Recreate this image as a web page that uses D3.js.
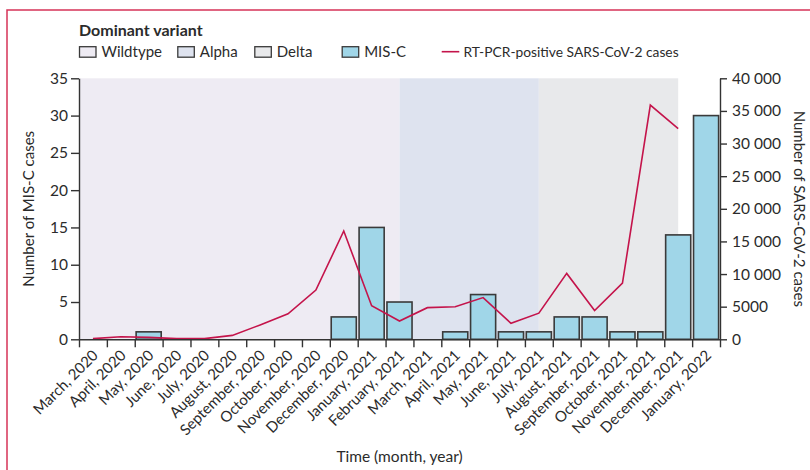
<!DOCTYPE html>
<html><head><meta charset="utf-8">
<script src="https://cdn.jsdelivr.net/npm/d3@7/dist/d3.min.js"></script>
<style>
body{margin:0;background:#fff}
text{font-family:Lato,sans-serif;fill:#2b2b2b}
</style>
</head><body>
<svg id="c" width="810" height="470"></svg>
<script>
const months = ["March, 2020","April, 2020","May, 2020","June, 2020","July, 2020","August, 2020",
  "September, 2020","October, 2020","November, 2020","December, 2020","January, 2021","February, 2021",
  "March, 2021","April, 2021","May, 2021","June, 2021","July, 2021","August, 2021","September, 2021",
  "October, 2021","November, 2021","December, 2021","January, 2022"];
const miscCases = [0,0,1,0,0,0,0,0,0,3,15,5,0,1,6,1,1,3,3,1,1,14,30];
const sarsCases = [100,400,300,100,100,600,2200,3900,7550,16600,5150,2800,4850,5000,6400,2450,4000,10100,4400,8600,35900,32300,null];
const variantNames = ["Wildtype","Alpha","Delta"];
const variantStart = [0,11.5,16.5];   // in month units from left edge
const variantEnd = [11.5,16.5,21.5];
const leftTicks = [0,5,10,15,20,25,30,35];
const rightTicks = [0,5000,10000,15000,20000,25000,30000,35000,40000];
const rightTickLabels = ["0","5000","10 000","15 000","20 000","25 000","30 000","35 000","40 000"];

const variantColors = ["#eeebf3","#dee3ef","#e8e9eb"];
const barFill = "#a0d6e8", barStroke = "#3a3a3a", lineColor = "#c4144b", axisColor = "#333";
const FONT = "Lato,sans-serif";
const L = 79, R = 720, T = 78.3, B = 339.3;

const svg = d3.select("#c");

// frame
svg.append("path").attr("d","M7,470 V10 H810").attr("fill","none").attr("stroke","#d63358").attr("stroke-width",1.5);

const x = d3.scaleBand().domain(months).range([L,R]).paddingInner(0.1).paddingOuter(0.05);
const xi = d3.scaleLinear().domain([0,months.length]).range([L,R]);
const yL = d3.scaleLinear().domain([0,35]).range([B,T]);
const yR = d3.scaleLinear().domain([0,40000]).range([B,T]);

// variant shading
svg.append("g").selectAll("rect").data(variantNames).join("rect")
  .attr("x",(d,i)=>xi(variantStart[i])).attr("width",(d,i)=>xi(variantEnd[i])-xi(variantStart[i]))
  .attr("y",T).attr("height",B-T).attr("fill",(d,i)=>variantColors[i]);

// bars
svg.append("g").selectAll("rect").data(months.filter((m,i)=>miscCases[i]>0)).join("rect")
  .attr("x",m=>x(m)).attr("width",x.bandwidth())
  .attr("y",m=>yL(miscCases[months.indexOf(m)]))
  .attr("height",m=>B-yL(miscCases[months.indexOf(m)]))
  .attr("fill",barFill).attr("stroke",barStroke).attr("stroke-width",1.6);

// line
const line = d3.line().defined(d=>d[1]!=null).x(d=>x(d[0])+x.bandwidth()/2).y(d=>yR(d[1]));
svg.append("path").datum(months.map((m,i)=>[m,sarsCases[i]]))
  .attr("d",line).attr("fill","none").attr("stroke",lineColor).attr("stroke-width",1.6);

// left axis
const gl = svg.append("g").attr("transform",`translate(${L},0)`)
  .call(d3.axisLeft(yL).tickValues(leftTicks).tickSize(8).tickPadding(3).tickSizeOuter(0));
// right axis
const gr = svg.append("g").attr("transform",`translate(${R},0)`)
  .call(d3.axisRight(yR).tickValues(rightTicks).tickFormat((d,i)=>rightTickLabels[i]).tickSize(7).tickPadding(5).tickSizeOuter(0));
// bottom axis with ticks at month boundaries
const gb = svg.append("g").attr("transform",`translate(0,${B})`)
  .call(d3.axisBottom(xi).tickValues(d3.range(months.length+1)).tickSize(8).tickFormat("").tickSizeOuter(0));
[gl,gr,gb].forEach(g=>{
  g.selectAll("path,line").attr("stroke",axisColor).attr("stroke-width",1.4);
  g.selectAll("text").attr("font-size",15.5).attr("font-family",FONT).attr("fill","#2b2b2b");
});
gr.selectAll("text").attr("xml:space","preserve").style("white-space","pre");

// month labels
svg.append("g").selectAll("text").data(months).join("text")
  .attr("transform",m=>`translate(${x(m)+x.bandwidth()/2+6},${B+17}) rotate(-45)`)
  .attr("text-anchor","end").attr("font-size",15).text(m=>m);

// axis titles
svg.append("text").attr("transform",`translate(34,${(T+B)/2}) rotate(-90)`).attr("text-anchor","middle")
  .attr("font-size",15).text("Number of MIS-C cases");
svg.append("text").attr("transform",`translate(794,${(T+B)/2}) rotate(90)`).attr("text-anchor","middle")
  .attr("font-size",15).text("Number of SARS-CoV-2 cases");
svg.append("text").attr("x",(L+R)/2).attr("y",462).attr("text-anchor","middle")
  .attr("font-size",15.5).text("Time (month, year)");

// legend
svg.append("text").attr("x",79).attr("y",36).attr("font-size",16).attr("font-weight","bold").text("Dominant variant");
const legendBoxX = [79,177.3,254.3,341.7];
const legendLabels = variantNames.concat(["MIS-C"]);
const legendFills = variantColors.concat([barFill]);
legendLabels.forEach((lab,i)=>{
  svg.append("rect").attr("x",legendBoxX[i]+0.5).attr("y",46.7).attr("width",16.5).attr("height",10.5)
    .attr("fill",legendFills[i]).attr("stroke","#3a3a3a").attr("stroke-width",1.3);
  svg.append("text").attr("x",legendBoxX[i]+22.5).attr("y",57.3).attr("font-size",15).text(lab);
});
svg.append("line").attr("x1",441.7).attr("x2",459.3).attr("y1",51.7).attr("y2",51.7)
  .attr("stroke",lineColor).attr("stroke-width",1.6);
svg.append("text").attr("x",463.5).attr("y",57.3).attr("font-size",13.8).text("RT-PCR-positive SARS-CoV-2 cases");
</script>
</body></html>
